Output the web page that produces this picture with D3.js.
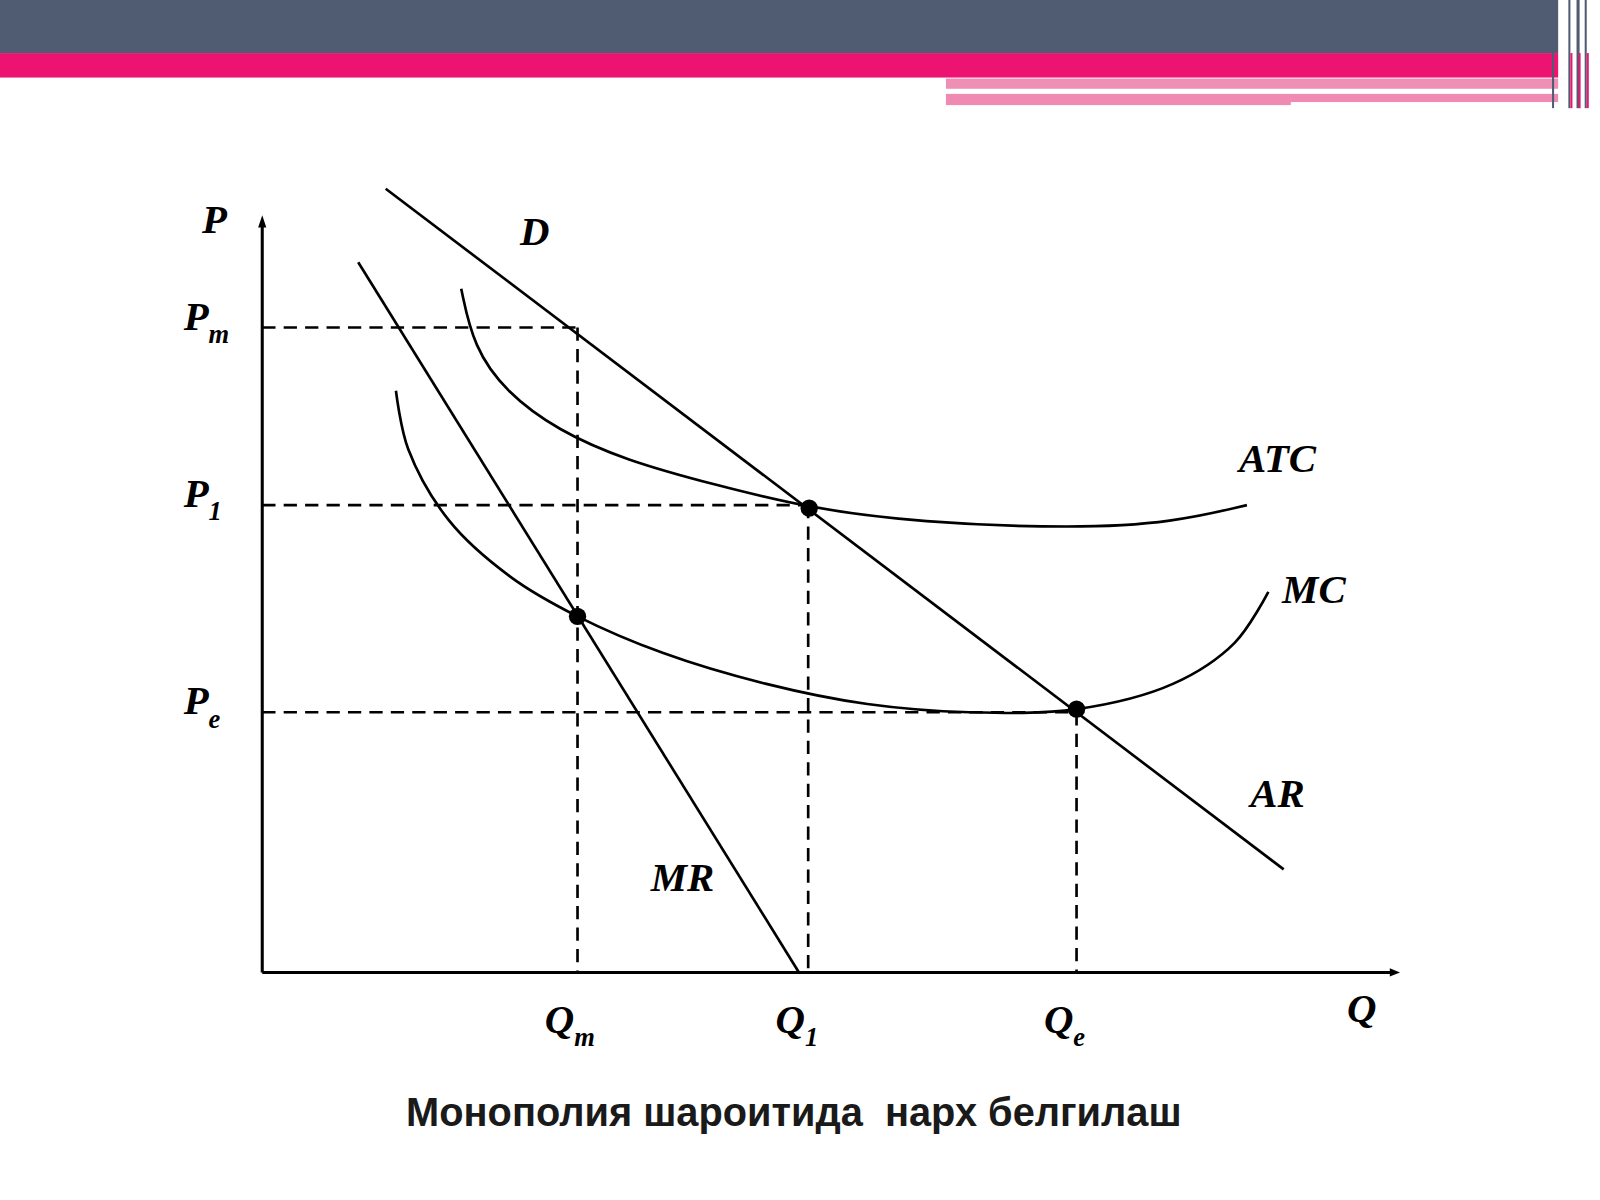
<!DOCTYPE html><html><head><meta charset="utf-8"><script src="https://cdn.jsdelivr.net/npm/d3@7"></script>
<style>body{margin:0;background:#fff}</style></head><body><svg id="c" width="1600" height="1200" viewBox="0 0 1568 1176"></svg>
<script>
const demand=[[10.87,104.07],[89.94,13.69]];
const mr=[[8.45,94.31],[47.26,0]];
const atc=[[17.52,90.79],[18.60,83.06],[21.50,77.0],[26.00,72.0],[32.00,68.0],[39.80,64.77],[48.16,61.65],[57.77,59.76],[71.70,58.94],[80.23,59.76],[86.70,62.06]];
const mc=[[11.77,77.24],[12.85,69.51],[16.44,60.03],[21.83,52.57],[27.76,47.29],[35.31,42.41],[44.29,38.35],[53.28,35.64],[62.26,34.55],[71.70,34.96],[80.23,38.35],[85.62,43.77],[88.59,50.54]];
const eqPoints=[[27.76,47.29],[48.16,61.65],[71.70,34.96]];
const qLevels=[{q:27.76,p:85.64,lab:"Q",sub:"m"},{q:48.07,p:62.06,lab:"Q",sub:"1"},{q:71.70,p:34.55,lab:"Q",sub:"e"}];
const pLevels=[{p:85.64,q:27.76,lab:"P",sub:"m"},{p:62.06,q:48.07,lab:"P",sub:"1"},{p:34.55,q:71.70,lab:"P",sub:"e"}];
const curveLabels=[{t:"D",q:22.7,p:96.6},{t:"ATC",q:86.0,p:66.5},{t:"MC",q:89.8,p:49.0},{t:"AR",q:87.0,p:22.0},{t:"MR",q:34.2,p:10.8}];
const title="Монополия шароитида  нарх белгилаш";

const svg=d3.select("#c");
const x=d3.scaleLinear().domain([0,100]).range([257,1370]);
const y=d3.scaleLinear().domain([0,100]).range([953,215]);
svg.append("rect").attr("x",0).attr("y",0).attr("width",1527).attr("height",52).attr("fill","#4f5c71");
svg.append("rect").attr("x",0).attr("y",52).attr("width",1527).attr("height",24).attr("fill","#ec1470");
svg.append("rect").attr("x",927).attr("y",77).attr("width",600).attr("height",10).attr("fill","#ef8fb6");
svg.append("rect").attr("x",927).attr("y",92).attr("width",600).attr("height",11).attr("fill","#f08ab3");
svg.append("rect").attr("x",1265).attr("y",100).attr("width",262).attr("height",6).attr("fill","#fff");
[[1521,2,"#4f5c71"],[1537,2,"#4f5c71"],[1545,3,"#4f5c71"],[1553,2,"#4f5c71"]].forEach(d=>svg.append("rect").attr("x",d[0]).attr("y",0).attr("width",d[1]).attr("height",106).attr("fill",d[2]));
[1539,1547,1555].forEach(v=>svg.append("rect").attr("x",v).attr("y",52).attr("width",2).attr("height",54).attr("fill","#ec1470"));

const g=svg.append("g");
g.append("line").attr("x1",x(0)).attr("y1",y(0)).attr("x2",x(0)).attr("y2",y(100)+6).attr("stroke","#000").attr("stroke-width",3);
g.append("path").attr("d",`M${x(0)-4},${y(100)+8}L${x(0)},${y(100)-4}L${x(0)+4},${y(100)+8}Z`);
g.append("line").attr("x1",x(0)).attr("y1",y(0)).attr("x2",x(100)-6).attr("y2",y(0)).attr("stroke","#000").attr("stroke-width",3);
g.append("path").attr("d",`M${x(100)-8},${y(0)-4}L${x(100)+2},${y(0)}L${x(100)-8},${y(0)+4}Z`);
const dash={"stroke":"#000","stroke-width":2.6,"stroke-dasharray":"13,8","fill":"none"};
function dl(a,b,c,d){const l=g.append("line").attr("x1",a).attr("y1",b).attr("x2",c).attr("y2",d);for(const k in dash)l.attr(k,dash[k]);}
pLevels.forEach(d=>dl(x(0),y(d.p),x(d.q),y(d.p)));
qLevels.forEach(d=>dl(x(d.q),y(d.p),x(d.q),y(0)));
const line=d3.line().x(d=>x(d[0])).y(d=>y(d[1]));
const smooth=d3.line().x(d=>x(d[0])).y(d=>y(d[1])).curve(d3.curveBasis);
const smooth2=d3.line().x(d=>x(d[0])).y(d=>y(d[1])).curve(d3.curveCatmullRom);
[[demand,line],[mr,line],[atc,smooth],[mc,smooth2]].forEach(([d,f])=>g.append("path").attr("d",f(d)).attr("fill","none").attr("stroke","#000").attr("stroke-width",2.6));
eqPoints.forEach(d=>g.append("circle").attr("cx",x(d[0])).attr("cy",y(d[1])).attr("r",8.5).attr("fill","#000"));
const serif="'Liberation Serif','Times New Roman',serif";
function lab(t,sub,px,py){const tx=g.append("text").attr("x",px).attr("y",py).attr("font-family",serif).attr("font-weight","bold").attr("font-style","italic").attr("font-size",40).text(t);
 if(sub)tx.append("tspan").attr("font-size",26).attr("dy",13).text(sub);}
lab("P",null,198,228);
pLevels.forEach(d=>lab(d.lab,d.sub,180,y(d.p)+2));
qLevels.forEach(d=>lab(d.lab,d.sub,x(d.q)-32,1012));
lab("Q",null,1320,1002);
curveLabels.forEach(d=>lab(d.t,null,x(d.q),y(d.p)));
svg.append("text").attr("x",778).attr("y",1103).attr("text-anchor","middle").attr("font-family","'Liberation Sans',Arial,sans-serif").attr("font-weight","bold").attr("font-size",39).attr("fill","#1a1a1a").style("white-space","pre").text(title);
</script></body></html>
